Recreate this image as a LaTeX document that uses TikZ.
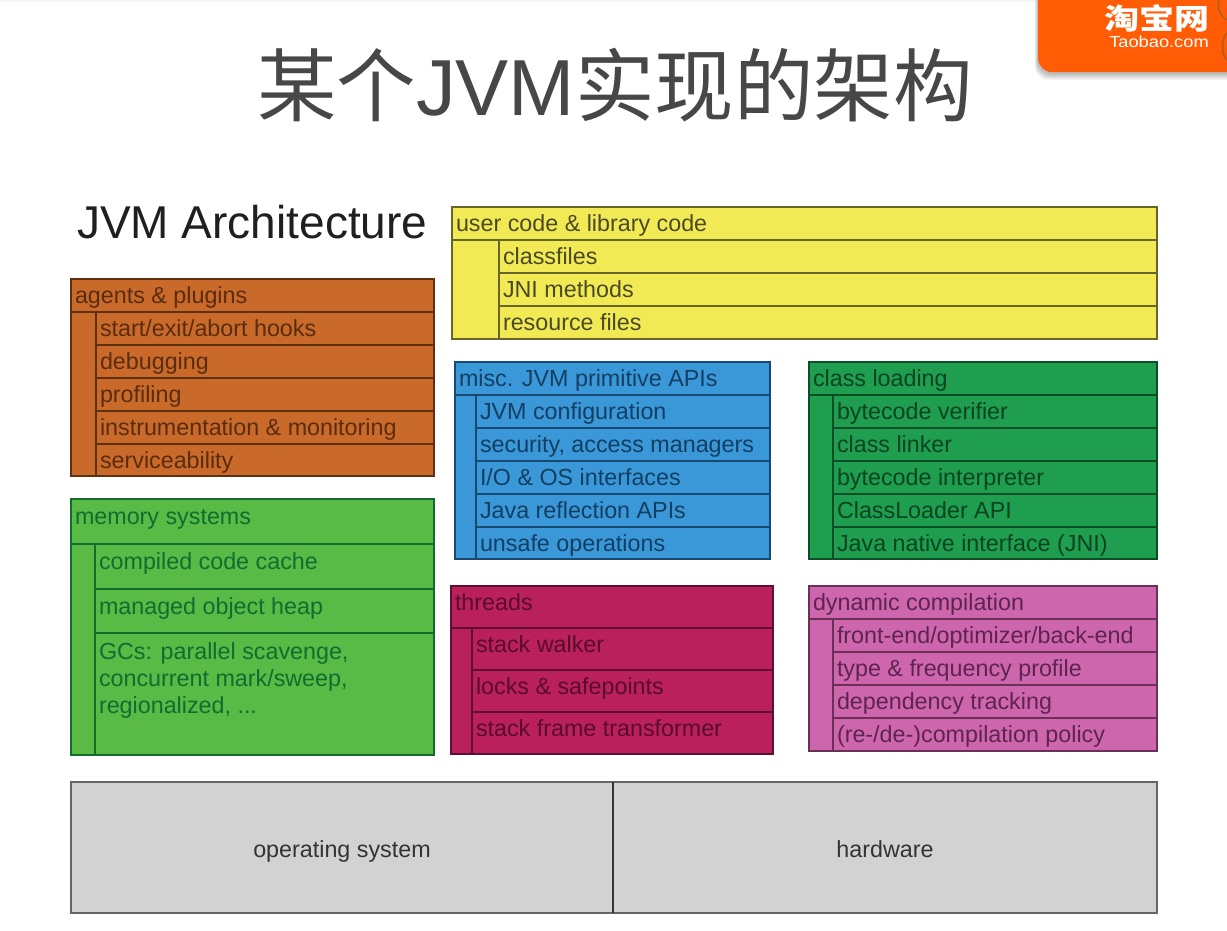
\documentclass[tikz,border=0pt]{standalone}
\usepackage{fontspec}
\setmainfont{Liberation Sans}
\newfontfamily\cjk{Noto Sans CJK SC}
\tikzset{
  cell/.style={draw, line width=1.6pt, inner xsep=4pt, inner ysep=0pt, outer sep=0pt, anchor=north west,
    font=\fontsize{23.3}{27}\selectfont},
  orangecell/.style={cell, fill=orangeF, draw=orangeD, text=orangeT},
  greencell/.style={cell, fill=greenF, draw=greenD, text=greenT},
  yellowcell/.style={cell, fill=yellowF, draw=yellowD, text=yellowT},
  bluecell/.style={cell, fill=blueF, draw=blueD, text=blueT},
  darkcell/.style={cell, fill=darkF, draw=darkD, text=darkT},
  redcell/.style={cell, fill=redF, draw=redD, text=redT},
  pinkcell/.style={cell, fill=pinkF, draw=pinkD, text=pinkT},
  greycell/.style={cell, fill=greyF, draw=greyD, text=greyT},
  shadowlayer/.style={fill=black, opacity=0.035, rounded corners=14pt},
  logoedge/.style={draw=logoE, line width=1.6pt},
}
\definecolor{orangeF}{HTML}{C96A2A}\definecolor{orangeD}{HTML}{5E3210}\definecolor{orangeT}{HTML}{5A2C10}
\definecolor{greenF}{HTML}{5ABA46}\definecolor{greenD}{HTML}{156B2C}\definecolor{greenT}{HTML}{0E6E30}
\definecolor{yellowF}{HTML}{F2EA55}\definecolor{yellowD}{HTML}{66662A}\definecolor{yellowT}{HTML}{4A4A28}
\definecolor{blueF}{HTML}{3A98D8}\definecolor{blueD}{HTML}{164A70}\definecolor{blueT}{HTML}{123F63}
\definecolor{darkF}{HTML}{1F9E50}\definecolor{darkD}{HTML}{0C4F26}\definecolor{darkT}{HTML}{0A4420}
\definecolor{redF}{HTML}{BA205C}\definecolor{redD}{HTML}{5E1030}\definecolor{redT}{HTML}{5A0C2C}
\definecolor{pinkF}{HTML}{CE66AE}\definecolor{pinkD}{HTML}{6A3058}\definecolor{pinkT}{HTML}{5E2450}
\definecolor{greyF}{HTML}{D2D2D2}\definecolor{greyD}{HTML}{666666}\definecolor{greyT}{HTML}{333333}
\definecolor{logoF}{RGB}{255,92,5}\definecolor{logoE}{HTML}{B85A20}
\def\strutH{24.5pt}
\def\cellalign{\raggedright}
\newcommand\cellbox[7]{\pgfmathsetlengthmacro\cw{(#5-#3)*1pt}\pgfmathsetlengthmacro\ch{(#6-#4)*1pt}\pgfmathsetlengthmacro\tw{(#5-#3)*1pt-8pt}%
  \node[#1, minimum width=\cw, minimum height=\ch] (#2) at (#3,#4) {\parbox[c][\ch][t]{\tw}{\cellalign\rule{0pt}{\strutH}#7}};}
\begin{document}
\begin{tikzpicture}[x=1pt,y=-1pt]
\useasboundingbox (0,0) rectangle (1227,931);
\fill[white] (0,0) rectangle (1227,931);
\begin{scope}
\clip (0,0) rectangle (1227,931);
\fill[black, opacity=0.04] (0,0) rectangle (1227,2);
\foreach \d in {1,...,8}{\fill[shadowlayer] (1038-\d*0.4,-30) rectangle (1260,73+\d*0.9);}
\node[minimum width=222pt, minimum height=102pt, anchor=north west, inner sep=0pt, rounded corners=14pt, fill=logoF] (logo) at (1038,-30) {};
\node[text=white, font=\cjk\bfseries\fontsize{35}{35}\selectfont, inner sep=0pt, yscale=0.82] (logoA) at (1157,18) {淘宝网};
\node[text=white, font=\fontsize{16}{16}\selectfont, inner sep=0pt, xscale=1.14] (logoB) at (1159,42) {Taobao.com};
\draw[logoedge] (1219,0) .. controls (1217,10) and (1222,18) .. (1227,20);
\draw[logoedge] (1227,33) .. controls (1221,38) and (1221,55) .. (1227,60);
\end{scope}
\node[text=black!72, font=\fontsize{79.5}{80}\selectfont, inner sep=0pt, anchor=west] (title) at (257,85) {{\cjk 某个}JVM{\cjk 实现的架构}};
\node[text=black!88, font=\fontsize{46}{46}\selectfont, inner sep=0pt, anchor=west] (arch) at (77,222) {JVM Architecture};

% orange
\cellbox{orangecell}{oS}{71}{312}{96}{476}{}
\cellbox{orangecell}{o0}{71}{279}{434}{312}{agents \& plugins}
\cellbox{orangecell}{o1}{96}{312}{434}{345}{start/exit/abort hooks}
\cellbox{orangecell}{o2}{96}{345}{434}{378}{debugging}
\cellbox{orangecell}{o3}{96}{378}{434}{411}{profiling}
\cellbox{orangecell}{o4}{96}{411}{434}{444}{instrumentation \& monitoring}
\cellbox{orangecell}{o5}{96}{444}{434}{476}{serviceability}
% memory
\cellbox{greencell}{gS}{71}{544}{95}{755}{}
{\def\strutH{25pt}\cellbox{greencell}{g0}{71}{499}{434}{544}{memory systems}
\cellbox{greencell}{g1}{95}{544}{434}{589}{compiled code cache}
\cellbox{greencell}{g2}{95}{589}{434}{633}{managed object heap}}
{\def\strutH{26pt}\cellbox{greencell}{g3}{95}{633}{434}{755}{GCs: parallel scavenge,\\concurrent mark/sweep,\\regionalized, ...}}
% yellow
\cellbox{yellowcell}{yS}{452}{240}{499}{339}{}
\cellbox{yellowcell}{y0}{452}{207}{1157}{240}{user code \& library code}
\cellbox{yellowcell}{y1}{499}{240}{1157}{273}{classfiles}
\cellbox{yellowcell}{y2}{499}{273}{1157}{306}{JNI methods}
\cellbox{yellowcell}{y3}{499}{306}{1157}{339}{resource files}
% blue
\cellbox{bluecell}{bS}{455}{395}{476}{559}{}
\cellbox{bluecell}{b0}{455}{362}{770}{395}{misc. JVM primitive APIs}
\cellbox{bluecell}{b1}{476}{395}{770}{428}{JVM configuration}
\cellbox{bluecell}{b2}{476}{428}{770}{461}{security, access managers}
\cellbox{bluecell}{b3}{476}{461}{770}{494}{I/O \& OS interfaces}
\cellbox{bluecell}{b4}{476}{494}{770}{527}{Java reflection APIs}
\cellbox{bluecell}{b5}{476}{527}{770}{559}{unsafe operations}
% class loading
\cellbox{darkcell}{dS}{809}{395}{833}{559}{}
\cellbox{darkcell}{d0}{809}{362}{1157}{395}{class loading}
\cellbox{darkcell}{d1}{833}{395}{1157}{428}{bytecode verifier}
\cellbox{darkcell}{d2}{833}{428}{1157}{461}{class linker}
\cellbox{darkcell}{d3}{833}{461}{1157}{494}{bytecode interpreter}
\cellbox{darkcell}{d4}{833}{494}{1157}{527}{ClassLoader API}
\cellbox{darkcell}{d5}{833}{527}{1157}{559}{Java native interface (JNI)}
% threads
\cellbox{redcell}{rS}{451}{628}{472}{754}{}
\cellbox{redcell}{r0}{451}{586}{773}{628}{threads}
\cellbox{redcell}{r1}{472}{628}{773}{670}{stack walker}
\cellbox{redcell}{r2}{472}{670}{773}{712}{locks \& safepoints}
\cellbox{redcell}{r3}{472}{712}{773}{754}{stack frame transformer}
% dynamic compilation
\cellbox{pinkcell}{pS}{809}{619}{833}{751}{}
\cellbox{pinkcell}{p0}{809}{586}{1157}{619}{dynamic compilation}
\cellbox{pinkcell}{p1}{833}{619}{1157}{652}{front-end/optimizer/back-end}
\cellbox{pinkcell}{p2}{833}{652}{1157}{685}{type \& frequency profile}
\cellbox{pinkcell}{p3}{833}{685}{1157}{718}{dependency tracking}
\cellbox{pinkcell}{p4}{833}{718}{1157}{751}{(re-/de-)compilation policy}
% base
{\def\strutH{75.5pt}\def\cellalign{\centering}%
\cellbox{greycell}{os}{71}{782}{613}{913}{operating system}
\cellbox{greycell}{hw}{613}{782}{1157}{913}{hardware}}
\draw[black!80, line width=1.4pt] (os.north east) -- (os.south east);
\end{tikzpicture}
\end{document}
